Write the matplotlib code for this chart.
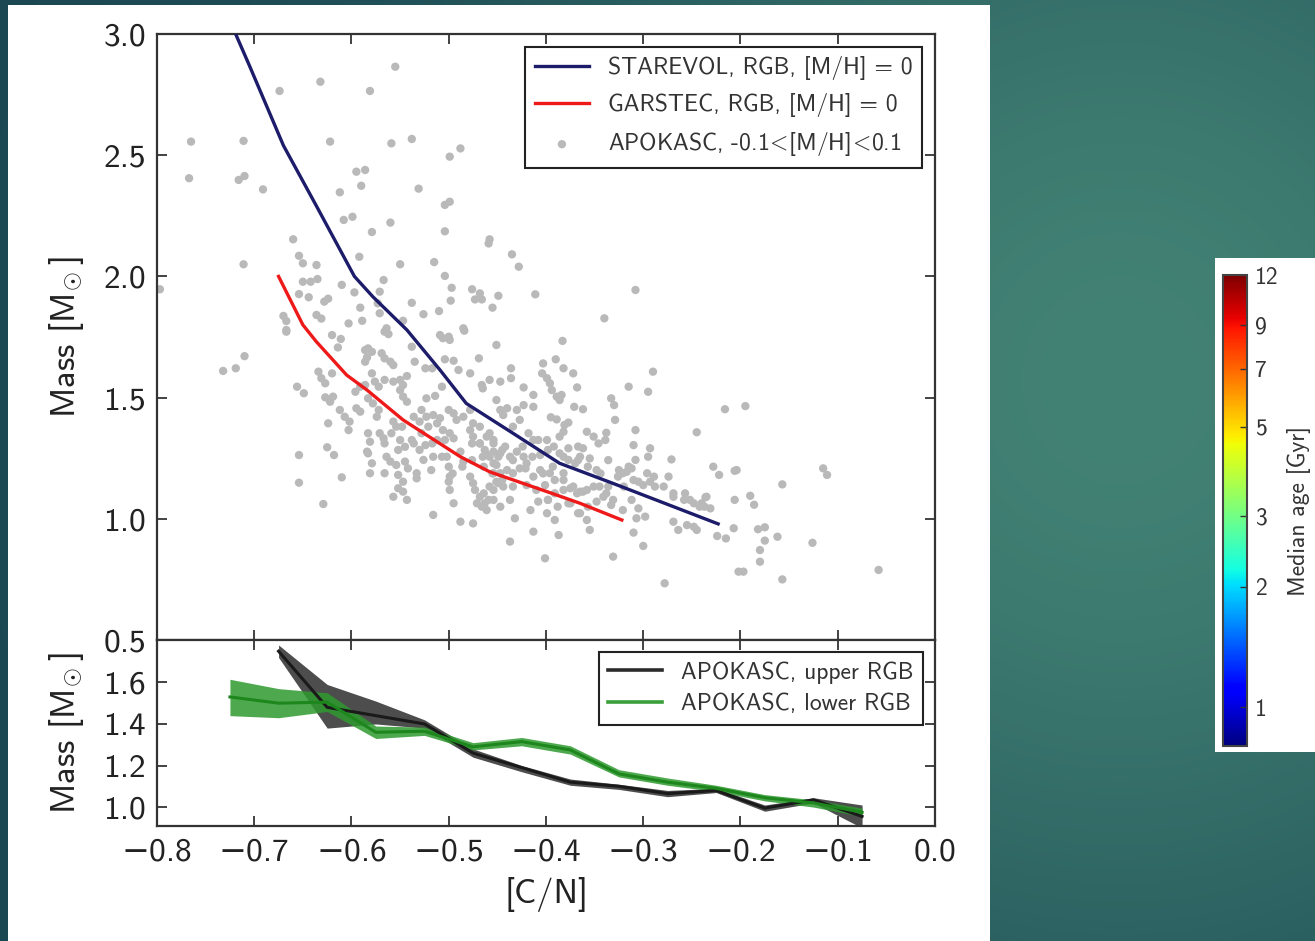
import numpy as np
import matplotlib
matplotlib.use("Agg")
import matplotlib.pyplot as plt
from matplotlib.colors import LogNorm
from matplotlib.cm import ScalarMappable
from matplotlib.patches import Rectangle
from matplotlib.lines import Line2D

plt.rcParams["font.family"] = ["cmss10", "DejaVu Sans"]
plt.rcParams["mathtext.fontset"] = "cm"
plt.rcParams["axes.unicode_minus"] = True
plt.rcParams["axes.formatter.use_mathtext"] = False

# model tracks, RGB at solar metallicity
starevol_cn = [-0.730, -0.705, -0.670, -0.636, -0.597, -0.578, -0.543, -0.509, -0.482, -0.434, -0.386, -0.331, -0.223]
starevol_mass = [3.10, 2.87, 2.54, 2.29, 2.00, 1.916, 1.779, 1.614, 1.476, 1.353, 1.229, 1.146, 0.979]
garstec_cn = [-0.675, -0.650, -0.636, -0.605, -0.584, -0.547, -0.523, -0.488, -0.458, -0.399, -0.365, -0.322]
garstec_mass = [2.00, 1.80, 1.73, 1.593, 1.531, 1.408, 1.346, 1.256, 1.194, 1.112, 1.064, 0.995]

# APOKASC stars with -0.1 < [M/H] < 0.1, as ([C/N], mass)
stars_high_mass = [
    (-0.555, 2.865), (-0.632, 2.803), (-0.674, 2.765), (-0.581, 2.765), (-0.765, 2.556), (-0.711, 2.559),
    (-0.622, 2.556), (-0.559, 2.549), (-0.538, 2.567), (-0.499, 2.494), (-0.488, 2.528), (-0.767, 2.405),
    (-0.716, 2.398), (-0.710, 2.414), (-0.691, 2.359), (-0.595, 2.432), (-0.586, 2.439), (-0.590, 2.374),
    (-0.612, 2.347), (-0.531, 2.362), (-0.504, 2.295), (-0.499, 2.308), (-0.608, 2.233), (-0.599, 2.246),
    (-0.560, 2.222), (-0.579, 2.183), (-0.504, 2.186), (-0.459, 2.136), (-0.458, 2.153), (-0.660, 2.153),
    (-0.435, 2.091), (-0.428, 2.040), (-0.711, 2.050), (-0.654, 2.085), (-0.650, 2.054), (-0.636, 2.047),
    (-0.592, 2.081), (-0.550, 2.050), (-0.515, 2.059), (-0.504, 2.002), (-0.497, 1.953), (-0.476, 1.947),
    (-0.468, 1.930), (-0.473, 1.905), (-0.466, 1.905), (-0.449, 1.920), (-0.411, 1.926), (-0.455, 1.871),
    (-0.650, 1.978), (-0.642, 1.978), (-0.635, 1.989), (-0.654, 1.927), (-0.644, 1.914), (-0.628, 1.896),
    (-0.624, 1.908), (-0.610, 1.965), (-0.597, 1.934), (-0.567, 1.985), (-0.591, 1.871), (-0.538, 1.891),
    (-0.526, 1.844), (-0.510, 1.857), (-0.571, 1.848), (-0.670, 1.837), (-0.667, 1.816), (-0.636, 1.841),
    (-0.631, 1.826), (-0.603, 1.806), (-0.589, 1.817), (-0.571, 1.937), (-0.797, 1.947), (-0.308, 1.944),
    (-0.498, 1.900), (-0.340, 1.827), (-0.485, 1.786), (-0.573, 1.889),
]
stars_left = [
    (-0.732, 1.610), (-0.719, 1.621), (-0.710, 1.671), (-0.667, 1.779), (-0.620, 1.758), (-0.611, 1.742),
    (-0.614, 1.707), (-0.634, 1.607), (-0.620, 1.600), (-0.667, 1.772), (-0.564, 1.786), (-0.566, 1.772),
    (-0.562, 1.762), (-0.547, 1.817), (-0.509, 1.758), (-0.506, 1.745), (-0.500, 1.751), (-0.499, 1.738),
    (-0.484, 1.776), (-0.451, 1.717), (-0.586, 1.696), (-0.583, 1.703), (-0.579, 1.689), (-0.584, 1.666),
    (-0.586, 1.648), (-0.569, 1.683), (-0.566, 1.662), (-0.560, 1.648), (-0.557, 1.634), (-0.535, 1.648),
    (-0.524, 1.621), (-0.538, 1.710), (-0.517, 1.621), (-0.543, 1.589), (-0.504, 1.658), (-0.495, 1.652),
    (-0.490, 1.614), (-0.478, 1.600), (-0.469, 1.662), (-0.507, 1.545), (-0.523, 1.497), (-0.514, 1.507),
    (-0.631, 1.580), (-0.627, 1.559), (-0.656, 1.545), (-0.649, 1.518), (-0.627, 1.501), (-0.622, 1.483),
    (-0.619, 1.504), (-0.596, 1.524), (-0.591, 1.545), (-0.586, 1.552), (-0.579, 1.600), (-0.576, 1.566),
    (-0.572, 1.545), (-0.566, 1.573), (-0.557, 1.566), (-0.550, 1.573), (-0.547, 1.552), (-0.550, 1.531),
    (-0.547, 1.504), (-0.543, 1.483), (-0.583, 1.497), (-0.578, 1.476), (-0.572, 1.449), (-0.574, 1.421),
    (-0.612, 1.449), (-0.607, 1.421), (-0.602, 1.401), (-0.603, 1.366), (-0.624, 1.394), (-0.595, 1.456),
    (-0.591, 1.442), (-0.528, 1.449), (-0.523, 1.421), (-0.516, 1.428), (-0.509, 1.415), (-0.500, 1.449),
    (-0.495, 1.435), (-0.492, 1.408), (-0.485, 1.421), (-0.478, 1.449), (-0.475, 1.394), (-0.468, 1.380),
    (-0.478, 1.366), (-0.461, 1.339), (-0.454, 1.311), (-0.468, 1.311), (-0.475, 1.339), (-0.454, 1.277),
    (-0.459, 1.263), (-0.449, 1.256), (-0.536, 1.421), (-0.530, 1.401), (-0.521, 1.380), (-0.512, 1.394),
    (-0.506, 1.366), (-0.499, 1.353), (-0.495, 1.332), (-0.504, 1.325), (-0.512, 1.325), (-0.557, 1.401),
    (-0.554, 1.380), (-0.559, 1.353), (-0.550, 1.325), (-0.545, 1.297), (-0.552, 1.284), (-0.536, 1.311),
    (-0.530, 1.284), (-0.524, 1.304), (-0.571, 1.353), (-0.567, 1.332), (-0.566, 1.311), (-0.583, 1.353),
    (-0.581, 1.318), (-0.584, 1.277), (-0.625, 1.295), (-0.618, 1.263), (-0.654, 1.263), (-0.654, 1.149),
    (-0.610, 1.171), (-0.629, 1.061), (-0.583, 1.270), (-0.579, 1.229), (-0.581, 1.188), (-0.564, 1.256),
    (-0.560, 1.236), (-0.566, 1.188), (-0.554, 1.222), (-0.545, 1.236), (-0.542, 1.208), (-0.552, 1.181),
    (-0.547, 1.153), (-0.552, 1.126), (-0.557, 1.091), (-0.547, 1.112), (-0.543, 1.078), (-0.533, 1.188),
    (-0.533, 1.167), (-0.526, 1.243), (-0.516, 1.256), (-0.518, 1.201), (-0.502, 1.256), (-0.500, 1.215),
    (-0.499, 1.174), (-0.500, 1.153), (-0.499, 1.119), (-0.495, 1.064), (-0.488, 1.277), (-0.485, 1.236),
    (-0.478, 1.174), (-0.475, 1.147), (-0.473, 1.119), (-0.468, 1.091), (-0.463, 1.064), (-0.461, 1.036),
    (-0.471, 1.064), (-0.475, 0.981), (-0.488, 0.988), (-0.516, 1.016), (-0.451, 1.222), (-0.454, 1.188),
    (-0.449, 1.147), (-0.454, 1.119), (-0.459, 1.078),
]
stars_mid = [
    (-0.383, 1.734), (-0.436, 1.621), (-0.436, 1.580), (-0.403, 1.641), (-0.390, 1.658), (-0.382, 1.621),
    (-0.372, 1.600), (-0.404, 1.600), (-0.399, 1.580), (-0.396, 1.559), (-0.394, 1.531), (-0.389, 1.504),
    (-0.384, 1.511), (-0.386, 1.490), (-0.368, 1.542), (-0.423, 1.542), (-0.413, 1.511), (-0.458, 1.573),
    (-0.447, 1.566), (-0.465, 1.538), (-0.466, 1.552), (-0.451, 1.490), (-0.440, 1.456), (-0.444, 1.428),
    (-0.447, 1.449), (-0.430, 1.449), (-0.423, 1.469), (-0.413, 1.462), (-0.333, 1.497), (-0.330, 1.469),
    (-0.371, 1.462), (-0.362, 1.452), (-0.395, 1.419), (-0.389, 1.410), (-0.381, 1.387), (-0.377, 1.397),
    (-0.382, 1.359), (-0.386, 1.339), (-0.358, 1.359), (-0.351, 1.339), (-0.362, 1.291), (-0.338, 1.355),
    (-0.329, 1.408), (-0.315, 1.545), (-0.295, 1.524), (-0.290, 1.607), (-0.308, 1.366), (-0.310, 1.304),
    (-0.308, 1.243), (-0.293, 1.291), (-0.295, 1.256), (-0.271, 1.245), (-0.245, 1.357), (-0.216, 1.452),
    (-0.206, 1.198), (-0.228, 1.215), (-0.222, 1.181), (-0.274, 1.174), (-0.269, 1.105), (-0.257, 1.105),
    (-0.252, 1.078), (-0.242, 1.050), (-0.235, 1.091), (-0.231, 1.043), (-0.346, 1.311), (-0.339, 1.325),
    (-0.321, 1.188), (-0.312, 1.208), (-0.305, 1.153), (-0.296, 1.188), (-0.293, 1.153), (-0.288, 1.133),
    (-0.312, 1.078), (-0.305, 1.043), (-0.298, 1.009), (-0.307, 1.002), (-0.269, 0.988), (-0.264, 0.954),
    (-0.255, 0.974), (-0.248, 0.967), (-0.245, 0.954), (-0.310, 0.943), (-0.300, 0.888), (-0.331, 0.844),
    (-0.278, 0.734), (-0.224, 0.929), (-0.215, 0.919), (-0.207, 0.961), (-0.206, 1.078), (-0.202, 0.782),
]
stars_core = [
    (-0.468, 1.311), (-0.463, 1.284), (-0.458, 1.256), (-0.464, 1.215), (-0.454, 1.229), (-0.447, 1.270),
    (-0.442, 1.298), (-0.437, 1.256), (-0.430, 1.277), (-0.423, 1.256), (-0.420, 1.229), (-0.427, 1.208),
    (-0.434, 1.188), (-0.440, 1.201), (-0.447, 1.188), (-0.451, 1.153), (-0.444, 1.133), (-0.458, 1.133),
    (-0.464, 1.105), (-0.454, 1.078), (-0.466, 1.050), (-0.447, 1.050), (-0.437, 1.078), (-0.432, 1.002),
    (-0.437, 0.906), (-0.413, 0.947), (-0.401, 0.837), (-0.387, 0.933), (-0.416, 1.036), (-0.408, 1.071),
    (-0.399, 1.023), (-0.391, 0.995), (-0.398, 1.078), (-0.391, 1.105), (-0.382, 1.119), (-0.375, 1.126),
    (-0.368, 1.105), (-0.365, 1.112), (-0.358, 1.119), (-0.375, 1.064), (-0.365, 1.023), (-0.358, 0.995),
    (-0.355, 0.954), (-0.348, 1.071), (-0.338, 1.105), (-0.333, 1.057), (-0.326, 1.174), (-0.317, 1.194),
    (-0.321, 1.036), (-0.345, 1.133), (-0.396, 1.188), (-0.391, 1.160), (-0.382, 1.188), (-0.406, 1.201),
    (-0.413, 1.174), (-0.420, 1.139), (-0.410, 1.119), (-0.401, 1.139), (-0.377, 1.243), (-0.370, 1.229),
    (-0.365, 1.256), (-0.355, 1.249), (-0.348, 1.201), (-0.336, 1.133), (-0.386, 1.270), (-0.392, 1.298),
    (-0.406, 1.263), (-0.399, 1.325), (-0.413, 1.325), (-0.418, 1.353), (-0.377, 1.291), (-0.367, 1.298),
    (-0.427, 1.408), (-0.434, 1.380), (-0.454, 1.325), (-0.458, 1.353),
]
stars_core_extra = [
    (-0.476, 1.311), (-0.465, 1.256), (-0.445, 1.284), (-0.434, 1.242), (-0.421, 1.208), (-0.414, 1.256),
    (-0.403, 1.187), (-0.393, 1.215), (-0.382, 1.160), (-0.372, 1.133), (-0.362, 1.112), (-0.351, 1.133),
    (-0.398, 1.078), (-0.388, 1.050), (-0.377, 1.064), (-0.367, 1.023), (-0.357, 1.050), (-0.341, 1.091),
    (-0.331, 1.078), (-0.320, 1.133), (-0.310, 1.160), (-0.300, 1.139), (-0.289, 1.174), (-0.279, 1.133),
    (-0.269, 1.091), (-0.258, 1.078), (-0.248, 1.064), (-0.237, 1.050), (-0.445, 1.160), (-0.434, 1.133),
    (-0.455, 1.187), (-0.424, 1.298), (-0.408, 1.325), (-0.398, 1.284), (-0.382, 1.256), (-0.367, 1.242),
    (-0.357, 1.215), (-0.344, 1.187), (-0.336, 1.242), (-0.325, 1.201), (-0.315, 1.215), (-0.476, 1.242),
    (-0.486, 1.215), (-0.496, 1.187), (-0.507, 1.256), (-0.517, 1.311), (-0.528, 1.353), (-0.538, 1.325),
    (-0.548, 1.380),
]
stars_tail = [
    (-0.195, 1.465), (-0.204, 1.201), (-0.115, 1.208), (-0.111, 1.181), (-0.157, 1.142), (-0.236, 1.089),
    (-0.240, 1.064), (-0.190, 1.095), (-0.186, 1.058), (-0.182, 0.957), (-0.175, 0.965), (-0.175, 0.910),
    (-0.162, 0.926), (-0.180, 0.871), (-0.180, 0.823), (-0.197, 0.782), (-0.157, 0.750), (-0.126, 0.901),
    (-0.058, 0.789),
]

# binned APOKASC mass with uncertainty band
upper_cn = [-0.675, -0.625, -0.575, -0.525, -0.475, -0.425, -0.375, -0.325, -0.275, -0.225, -0.175, -0.125, -0.075]
upper_mass = [1.75, 1.48, 1.44, 1.40, 1.26, 1.19, 1.12, 1.10, 1.065, 1.08, 0.995, 1.035, 0.955]
upper_lo = [1.72, 1.38, 1.40, 1.38, 1.24, 1.17, 1.105, 1.085, 1.05, 1.07, 0.98, 1.02, 0.90]
upper_hi = [1.78, 1.59, 1.51, 1.42, 1.28, 1.20, 1.135, 1.11, 1.08, 1.09, 1.01, 1.045, 1.01]
lower_cn = [-0.725, -0.675, -0.625, -0.575, -0.525, -0.475, -0.425, -0.375, -0.325, -0.275, -0.225, -0.175, -0.125, -0.075]
lower_mass = [1.53, 1.50, 1.505, 1.36, 1.365, 1.29, 1.315, 1.275, 1.16, 1.12, 1.09, 1.045, 1.02, 0.975]
lower_lo = [1.44, 1.43, 1.46, 1.33, 1.345, 1.275, 1.295, 1.255, 1.145, 1.105, 1.075, 1.03, 1.00, 0.955]
lower_hi = [1.615, 1.57, 1.55, 1.39, 1.385, 1.31, 1.335, 1.295, 1.18, 1.14, 1.105, 1.06, 1.035, 0.995]

age_ticks = [1, 2, 3, 5, 7, 9, 12]

W, H = 1315, 941
fig = plt.figure(figsize=(W / 100, H / 100), dpi=100)

# slide background
bg = fig.add_axes([0, 0, 1, 1], zorder=-10)
yy, xx = np.mgrid[0:H, 0:W]
glow = np.exp(-(((xx - 1120) / 620.0) ** 2 + ((yy - 380) / 650.0) ** 2))
dark = np.array([26, 70, 82]) / 255
light = np.array([66, 130, 116]) / 255
img = dark + (light - dark) * glow[..., None]
bg.imshow(img, extent=(0, 1, 0, 1), aspect="auto", origin="upper")
bg.set_axis_off()
fig.add_artist(Rectangle((8 / W, 0), 982 / W, 1 - 5 / H, transform=fig.transFigure,
                         facecolor="white", edgecolor="none", zorder=-5))
fig.add_artist(Rectangle((1215 / W, 1 - 752 / H), 100 / W, 494 / H, transform=fig.transFigure,
                         facecolor="white", edgecolor="none", zorder=-5))

ax_top = fig.add_axes([157 / W, 1 - 640 / H, 778 / W, 606 / H])
ax_bot = fig.add_axes([157 / W, 1 - 826 / H, 778 / W, 186 / H])

stars = np.array(stars_high_mass + stars_left + stars_mid + stars_core + stars_core_extra + stars_tail)
h_star = ax_top.scatter(stars[:, 0], stars[:, 1], s=36, color="#b9b9b9", edgecolors="none", zorder=1)
h_starevol, = ax_top.plot(starevol_cn, starevol_mass, color="#1c1c6a", lw=2.4, zorder=3)
h_garstec, = ax_top.plot(garstec_cn, garstec_mass, color="#ee1a1a", lw=2.4, zorder=3)

ax_bot.fill_between(upper_cn, upper_lo, upper_hi, color="#3a3a3a", alpha=0.9, lw=0, zorder=2)
ax_bot.plot(upper_cn, upper_mass, color="#1a1a1a", lw=2.2, zorder=3)
ax_bot.fill_between(lower_cn, lower_lo, lower_hi, color="#2f9a2f", alpha=0.85, lw=0, zorder=2)
ax_bot.plot(lower_cn, lower_mass, color="#1d861d", lw=2.2, zorder=3)

for ax in (ax_top, ax_bot):
    ax.set_xlim(-0.8, 0.0)
    ax.tick_params(direction="in", length=7, width=1.2, top=True, right=True,
                   labelsize=24, pad=8, colors="#222222")
    for sp in ax.spines.values():
        sp.set_linewidth(1.6)
        sp.set_color("#333333")

mass_label = r"Mass [M$_{\!\odot}$]"
ax_top.set_ylim(0.5, 3.0)
ax_top.set_yticks([0.5, 1.0, 1.5, 2.0, 2.5, 3.0])
ax_top.set_xticks(np.arange(-0.8, 0.01, 0.1))
ax_top.tick_params(labelbottom=False)
ax_top.set_ylabel(mass_label, fontsize=25, labelpad=12, color="#222222")

ax_bot.set_ylim(0.909, 1.804)
ax_bot.set_yticks([1.0, 1.2, 1.4, 1.6])
ax_bot.set_xticks(np.arange(-0.8, 0.01, 0.1))
ax_bot.set_ylabel(mass_label, fontsize=25, labelpad=12, color="#222222")
ax_bot.set_xlabel("[C/N]", fontsize=25, labelpad=8, color="#222222")

leg = ax_top.legend([h_starevol, h_garstec, h_star],
                    ["STAREVOL, RGB, [M/H] = 0", "GARSTEC, RGB, [M/H] = 0",
                     r"APOKASC, -0.1$\!<\!$[M/H]$\!<\!$0.1"],
                    loc="upper right", fontsize=17, frameon=True, fancybox=False, framealpha=1,
                    edgecolor="#222222", borderaxespad=0.55, handlelength=2.3, labelspacing=0.55,
                    scatterpoints=1)
leg.get_frame().set_linewidth(1.5)
for t in leg.get_texts():
    t.set_color("#333333")

handles = [Line2D([], [], color="#2b2b2b", lw=2.6), Line2D([], [], color="#3a9f3a", lw=2.6)]
leg2 = ax_bot.legend(handles, ["APOKASC, upper RGB", "APOKASC, lower RGB"], loc="upper right",
                     fontsize=17, frameon=True, fancybox=False, framealpha=1, edgecolor="#222222",
                     borderaxespad=0.5, handlelength=2.3, labelspacing=0.4)
leg2.get_frame().set_linewidth(1.5)
for t in leg2.get_texts():
    t.set_color("#333333")

cax = fig.add_axes([1223 / W, 1 - 746 / H, 24 / W, 471 / H])
cb = fig.colorbar(ScalarMappable(norm=LogNorm(0.8, 12), cmap="jet"), cax=cax)
cb.set_ticks(age_ticks)
cb.set_ticklabels([str(v) for v in age_ticks])
cb.ax.minorticks_off()
cb.ax.tick_params(direction="in", length=5, width=1, labelsize=17, pad=6, colors="#333333")
cb.outline.set_linewidth(1.5)
cb.outline.set_edgecolor("#444444")
cb.set_label("Median age [Gyr]", fontsize=17, labelpad=6, color="#333333")

fig.savefig("out.png", dpi=100)
